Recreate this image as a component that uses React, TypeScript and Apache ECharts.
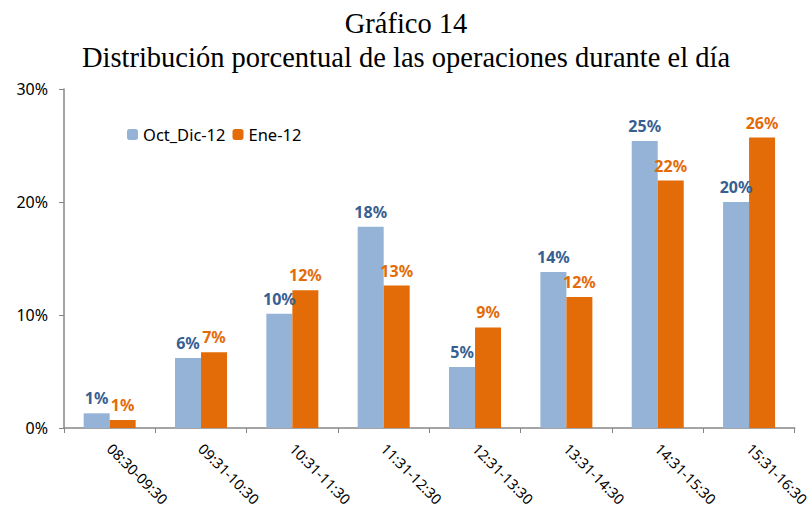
import React, { useEffect, useRef } from "react";
import * as echarts from "echarts";

const categories = [
  "08:30-09:30",
  "09:31-10:30",
  "10:31-11:30",
  "11:31-12:30",
  "12:31-13:30",
  "13:31-14:30",
  "14:31-15:30",
  "15:31-16:30",
];
const octDic12 = [1.3, 6.2, 10.1, 17.8, 5.4, 13.8, 25.4, 20.0];
const ene12 = [0.7, 6.7, 12.2, 12.6, 8.9, 11.6, 21.9, 25.7];
const yTicks = [0, 10, 20, 30];

const App: React.FC = () => {
  const ref = useRef<HTMLDivElement>(null);
  useEffect(() => {
    if (!ref.current) return;
    const chart = echarts.init(ref.current, undefined, { renderer: "svg" });
    const labelFont = "'Noto Sans', 'Open Sans', sans-serif";
    chart.setOption({
      animation: false,
      backgroundColor: "#ffffff",
      title: {
        text: "Gráfico 14\nDistribución porcentual de las operaciones durante el día",
        left: "center",
        top: 1,
        textStyle: {
          fontFamily: "'Liberation Serif', 'DejaVu Serif', serif",
          fontWeight: "normal",
          fontSize: 28.5,
          lineHeight: 34,
          color: "#000000",
        },
      },
      legend: {
        left: 122,
        top: 121,
        itemWidth: 11,
        itemHeight: 11,
        itemGap: 7,
        textStyle: { fontFamily: labelFont, fontSize: 16.5, color: "#000000" },
        data: ["Oct_Dic-12", "Ene-12"],
      },
      grid: { left: 64, right: 14, top: 89, bottom: 85, containLabel: false },
      xAxis: {
        type: "category",
        data: categories,
        axisLine: { lineStyle: { color: "#868686", width: 1.5 } },
        axisTick: { show: true, alignWithLabel: false, length: 5, lineStyle: { color: "#868686" } },
        axisLabel: {
          rotate: -45,
          interval: 0,
          margin: 18,
          fontFamily: labelFont,
          fontSize: 14.5,
          color: "#000000",
        },
      },
      yAxis: {
        type: "value",
        min: 0,
        max: 30,
        interval: 10,
        splitLine: { show: false },
        axisLine: { show: true, lineStyle: { color: "#868686", width: 1.5 } },
        axisTick: { show: true, length: 5, lineStyle: { color: "#868686" } },
        axisLabel: {
          formatter: (v: number) => (yTicks.includes(v) ? v + "%" : ""),
          fontFamily: labelFont,
          fontSize: 16,
          color: "#000000",
          margin: 16,
        },
      },
      series: [
        {
          name: "Oct_Dic-12",
          type: "bar",
          data: octDic12,
          barWidth: 26,
          barGap: "0%",
          itemStyle: { color: "#95B3D7" },
          label: {
            show: true,
            position: "top",
            distance: 7,
            formatter: (p: any) => Math.round(p.value) + "%",
            fontFamily: labelFont,
            fontWeight: "bold",
            fontSize: 16,
            color: "#376092",
          },
        },
        {
          name: "Ene-12",
          type: "bar",
          data: ene12,
          barWidth: 26,
          barGap: "0%",
          itemStyle: { color: "#E36C09" },
          label: {
            show: true,
            position: "top",
            distance: 7,
            formatter: (p: any) => Math.round(p.value) + "%",
            fontFamily: labelFont,
            fontWeight: "bold",
            fontSize: 16,
            color: "#E36C09",
          },
        },
      ],
    });
    return () => chart.dispose();
  }, []);
  return (
    <div
      ref={ref}
      style={{ position: "fixed", left: 0, top: 0, width: 812, height: 513 }}
    />
  );
};

export default App;
